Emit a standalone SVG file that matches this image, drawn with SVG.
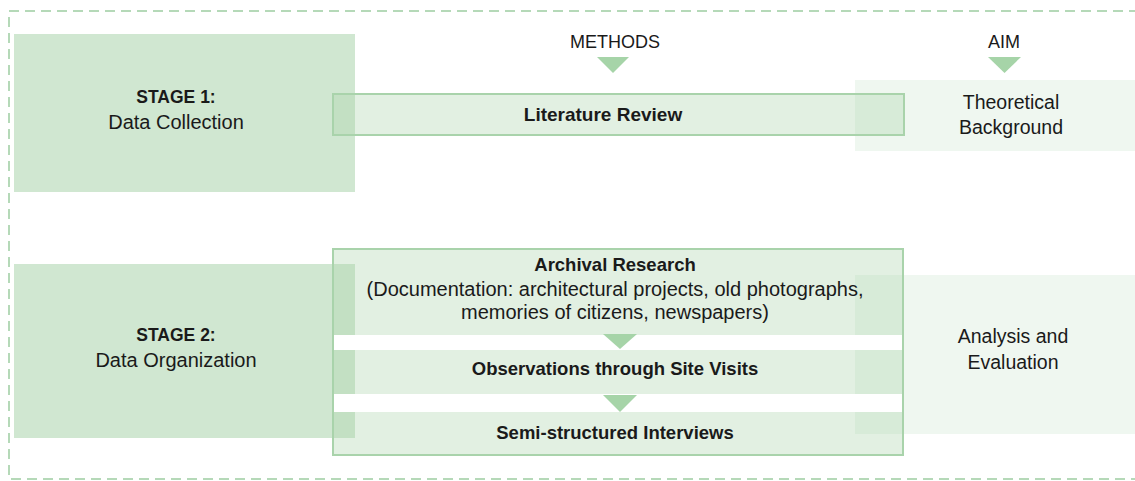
<svg xmlns="http://www.w3.org/2000/svg" width="1135" height="481" viewBox="0 0 1135 481">
<style>
text{font-family:"Liberation Sans",Arial,sans-serif;fill:#1a1a1a;text-anchor:middle}
.b{font-weight:bold;font-size:18.5px}
.r{font-size:20px}
.h{font-size:18px}
.stage{fill:#a9d3ab;fill-opacity:0.55}
.aim{fill:#a9d3ab;fill-opacity:0.18}
.band{fill:#a9d3ab;fill-opacity:0.34}
.tri{fill:#a6d4a8}
</style>
<rect x="9" y="11" width="1140" height="468" fill="none" stroke="#b5d9b8" stroke-width="2" stroke-dasharray="10 6"/>
<g id="stage1">
<rect class="stage" x="14" y="34" width="341" height="158"/>
<text class="b" x="176" y="103" style="font-size:17.5px">STAGE 1:</text>
<text class="r" x="176" y="129">Data Collection</text>
</g>
<g id="stage2">
<rect class="stage" x="14" y="264" width="341" height="174"/>
<text class="b" x="176" y="341" style="font-size:17.5px">STAGE 2:</text>
<text class="r" x="176" y="367">Data Organization</text>
</g>
<g id="theoretical">
<rect class="aim" x="855" y="80" width="285" height="71"/>
<text class="r" x="1011" y="109" style="font-size:19.5px">Theoretical</text>
<text class="r" x="1011" y="134" style="font-size:19.5px">Background</text>
</g>
<g id="analysis">
<rect class="aim" x="855" y="275" width="285" height="159"/>
<text class="r" x="1013" y="343" style="font-size:19.5px">Analysis and</text>
<text class="r" x="1013" y="369" style="font-size:19.5px">Evaluation</text>
</g>
<g id="headers">
<text class="h" x="615" y="48">METHODS</text>
<polygon class="tri" points="597,57 629,57 613,73"/>
<text class="h" x="1004" y="48">AIM</text>
<polygon class="tri" points="988,57 1021,57 1004.5,73"/>
</g>
<g id="literature">
<rect class="band" x="333" y="94" width="571" height="41" stroke="#a9d3ab" stroke-width="2"/>
<text class="b" x="603" y="121" style="font-size:19px">Literature Review</text>
</g>
<g id="methods-stage2">
<rect class="band" x="333" y="249" width="570" height="86"/>
<rect fill="#ffffff" x="333" y="335" width="570" height="15"/>
<rect class="band" x="333" y="350" width="570" height="44"/>
<rect fill="#ffffff" x="333" y="394" width="570" height="18"/>
<rect class="band" x="333" y="412" width="570" height="43"/>
<rect x="333" y="249" width="570" height="206" fill="none" stroke="#a9d3ab" stroke-width="2"/>
</g>
<g id="archival">
<text class="b" x="615" y="271">Archival Research</text>
<text class="r" x="615" y="296">(Documentation: architectural projects, old photographs,</text>
<text class="r" x="615" y="319">memories of citizens, newspapers)</text>
</g>
<g id="observations">
<text class="b" x="615" y="375">Observations through Site Visits</text>
</g>
<g id="interviews">
<text class="b" x="615" y="439">Semi-structured Interviews</text>
</g>
<g id="connectors">
<polygon class="tri" points="603,334 637,334 620,349"/>
<polygon class="tri" points="603,395 637,395 620,412"/>
</g>
</svg>
